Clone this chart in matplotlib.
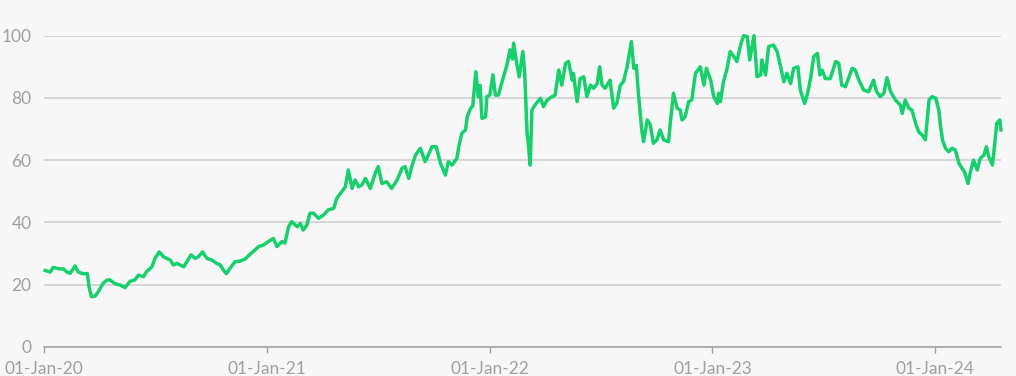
import matplotlib
matplotlib.use("Agg")
import matplotlib.pyplot as plt
import matplotlib.dates as mdates
import pandas as pd

# Days since 01-Jan-2020
day_offsets = [
    2, 10, 15, 26, 32, 37, 43, 51, 56, 64, 71, 74, 78, 84, 89, 97, 103, 108, 116, 125,
    133, 141, 149, 155, 163, 168, 177, 182, 189, 196, 201, 207, 212, 218, 223, 229, 234, 241, 248, 253,
    260, 267, 275, 283, 289, 294, 299, 305, 313, 321, 330, 338, 346, 352, 360, 368, 376, 382, 390, 395,
    401, 406, 415, 420, 425, 431, 436, 442, 450, 458, 466, 475, 480, 488, 494, 499, 505, 510, 516, 521,
    527, 535, 543, 548, 554, 562, 570, 579, 587, 592, 598, 603, 609, 617, 625, 630, 636, 643, 650, 658,
    663, 669, 677, 680, 685, 691, 694, 699, 703, 708, 712, 715, 718, 724, 726, 731, 736, 740, 745, 751, 759,
    764, 768, 770, 775, 779, 785, 788, 792, 794, 797, 800, 805, 814, 819, 825, 833, 838, 844, 849, 855, 860,
    866, 868, 874, 879, 885, 890, 896, 901, 907, 911, 915, 920, 928, 934, 939, 945, 950, 956, 963, 967,
    971, 975, 980, 983, 989, 994, 999, 1005, 1010, 1016, 1024, 1027, 1032, 1038, 1043, 1046, 1051, 1057, 1062, 1068,
    1076, 1082, 1086, 1093, 1098, 1104, 1106, 1109, 1114, 1120, 1125, 1131, 1136, 1142, 1147, 1153, 1157, 1164, 1169, 1175,
    1177, 1183, 1188, 1196, 1202, 1207, 1213, 1218, 1224, 1229, 1236, 1240, 1247, 1252, 1257, 1262, 1268, 1272, 1276, 1281,
    1289, 1298, 1303, 1308, 1314, 1325, 1330, 1336, 1344, 1352, 1360, 1365, 1371, 1377, 1382, 1388, 1396, 1404, 1407, 1412,
    1418, 1423, 1429, 1434, 1440, 1445, 1451, 1456, 1462, 1467, 1470, 1473, 1478, 1483, 1489, 1494, 1500, 1505, 1509, 1515,
    1519, 1524, 1530, 1535, 1541, 1545, 1549, 1555, 1558, 1562, 1567, 1569,
]

values = [
    24.5, 24.0, 25.5, 25.0, 25.0, 24.1, 23.6, 26.0, 24.0, 23.5, 23.5, 19.0, 16.1, 16.3, 17.7, 20.4, 21.4, 21.5, 20.3, 19.8,
    19.0, 21.0, 21.5, 23.0, 22.5, 24.1, 25.7, 28.4, 30.5, 28.9, 28.4, 27.9, 26.3, 26.8, 26.3, 25.7, 27.3, 29.5, 28.4, 28.9,
    30.5, 28.4, 27.9, 26.8, 26.3, 24.7, 23.5, 25.2, 27.3, 27.5, 28.2, 29.8, 31.1, 32.2, 32.7, 33.8, 34.8, 32.2, 33.8, 33.3,
    38.6, 40.2, 38.6, 39.6, 37.5, 39.1, 42.9, 42.9, 41.3, 42.3, 44.0, 44.5, 47.7, 49.8, 51.4, 56.8, 50.9, 53.6, 51.4, 52.0,
    54.1, 50.9, 55.7, 57.9, 52.5, 53.0, 50.9, 53.6, 57.4, 57.9, 54.1, 57.9, 61.6, 63.8, 59.5, 61.6, 64.3, 64.3, 59.0, 55.2,
    59.5, 58.4, 60.6, 64.3, 68.6, 69.7, 74.0, 76.5, 77.5, 88.4, 80.4, 84.0, 73.4, 73.9, 80.4, 80.9, 87.4, 80.9, 80.9, 85.2, 90.6,
    95.5, 92.5, 97.6, 91.1, 86.8, 94.9, 88.4, 68.6, 65.4, 58.4, 76.1, 77.7, 79.9, 77.2, 79.3, 80.4, 80.9, 89.0, 84.1, 91.1, 91.7,
    85.7, 87.9, 78.8, 86.2, 86.8, 80.4, 84.1, 83.1, 84.6, 90.0, 84.1, 83.1, 85.7, 76.7, 78.2, 84.1, 85.2, 90.0, 98.1, 89.5,
    90.5, 80.4, 69.7, 65.9, 72.9, 71.4, 65.4, 66.5, 69.7, 66.5, 65.9, 72.3, 81.5, 76.7, 76.1, 72.9, 73.9, 78.8, 79.3, 87.9,
    90.0, 84.1, 89.5, 85.7, 80.4, 78.2, 81.5, 78.8, 85.2, 89.5, 94.9, 93.3, 91.7, 97.0, 100.0, 99.7, 92.2, 100.0, 86.8, 87.4,
    92.2, 87.4, 96.5, 97.0, 94.9, 90.6, 85.2, 87.9, 84.6, 89.5, 90.0, 82.5, 78.2, 81.5, 86.5, 93.3, 94.3, 87.4, 88.9, 86.2,
    86.2, 91.7, 91.1, 84.1, 83.6, 89.5, 89.0, 85.7, 82.5, 82.0, 85.7, 82.0, 80.4, 81.5, 86.5, 82.0, 79.3, 77.7, 75.0, 79.3,
    76.7, 76.1, 71.8, 69.1, 68.0, 66.5, 79.3, 80.4, 79.9, 76.1, 70.7, 66.5, 63.8, 62.7, 63.8, 63.3, 59.0, 57.4, 56.3, 52.5,
    56.3, 60.0, 56.8, 60.6, 61.6, 64.3, 61.1, 58.4, 63.8, 71.8, 72.9, 69.7,
]

start_date = "2020-01-01"
end_date = "2024-04-18"
tick_dates = ["2020-01-01", "2021-01-01", "2022-01-01", "2023-01-01", "2024-01-01"]
y_ticks = [0, 20, 40, 60, 80, 100]

dates = pd.Timestamp(start_date) + pd.to_timedelta(day_offsets, unit="D")

BG = "#f7f7f7"
LINE = "#17cf6c"
TEXT = "#a0a0a0"
GRID = "#cccccc"

plt.rcParams["font.family"] = ["Lato", "DejaVu Sans"]

fig = plt.figure(figsize=(10.16, 3.76), dpi=100, facecolor=BG)
ax = fig.add_axes([44 / 1016, 1 - 346.7 / 376, (1001 - 44) / 1016, (346.7 - 35.7) / 376])
ax.set_facecolor(BG)

ax.plot(dates, values, color=LINE, linewidth=2.5, clip_on=False, zorder=3,
        solid_joinstyle="round")

ax.set_xlim(pd.Timestamp(start_date), pd.Timestamp(end_date))
ax.set_ylim(0, 100)
ax.set_yticks(y_ticks)
ax.set_xticks(pd.to_datetime(tick_dates))
ax.xaxis.set_major_formatter(mdates.DateFormatter("%d-%b-%y"))

ax.grid(axis="y", color=GRID, linewidth=1.1, zorder=0)
ax.grid(axis="x", visible=False)
for s in ["top", "right", "left"]:
    ax.spines[s].set_visible(False)
ax.spines["bottom"].set_color("#a0a0a0")
ax.spines["bottom"].set_linewidth(1.1)

ax.tick_params(axis="y", length=0, pad=9, labelsize=12.5, labelcolor=TEXT)
ax.tick_params(axis="x", length=4, width=1, color="#a0a0a0", pad=6,
               labelsize=12.5, labelcolor=TEXT)

fig.savefig("out.png", dpi=100, facecolor=BG)
